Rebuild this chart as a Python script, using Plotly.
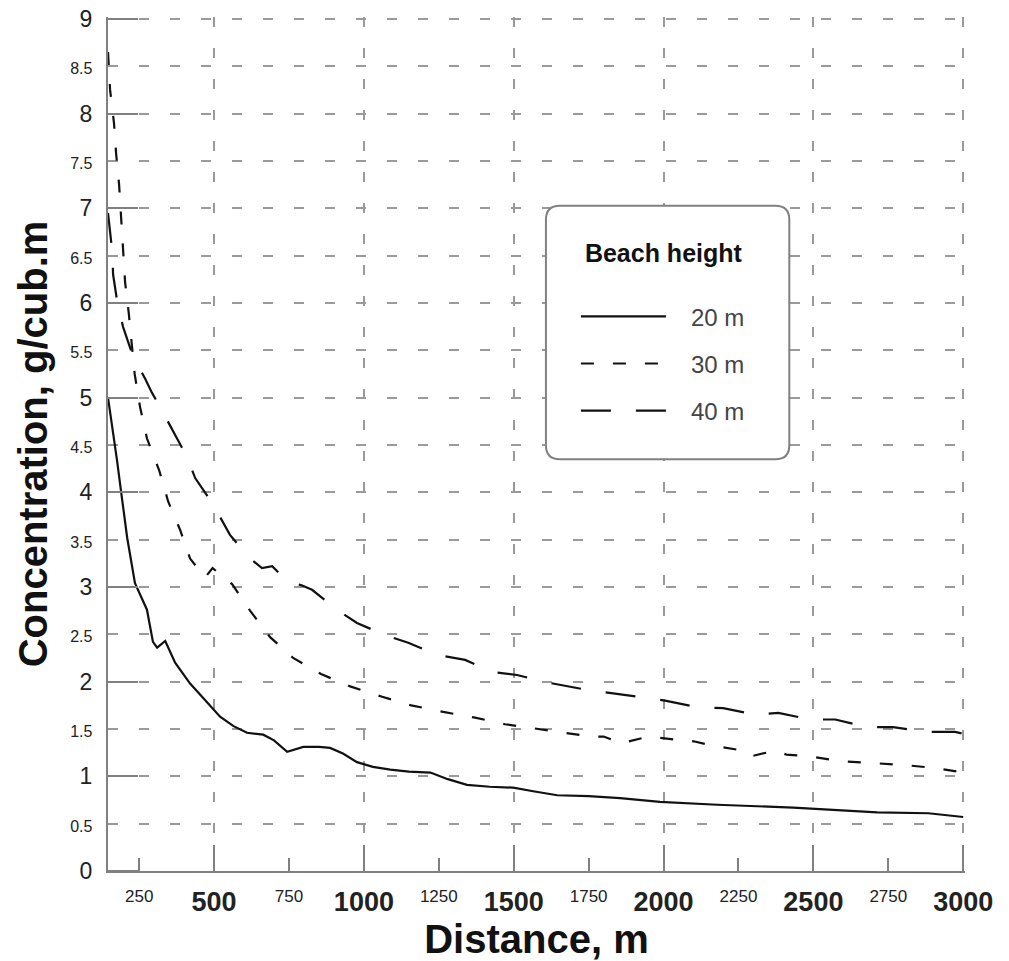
import plotly.graph_objects as go

# ---- data ----
x20 = [146, 160, 176, 190, 210, 236, 276, 296, 310, 337, 370, 420, 470, 520, 565, 610,
       664, 700, 744, 798, 850, 887, 930, 977, 1030, 1088, 1150, 1222, 1280, 1344, 1420,
       1498, 1570, 1645, 1750, 1855, 1988, 2179, 2433, 2713, 2884, 3000]
y20 = [5.0, 4.7, 4.34, 4.0, 3.52, 3.04, 2.76, 2.42, 2.36, 2.43, 2.2, 1.98, 1.8, 1.63, 1.53, 1.46,
       1.44, 1.38, 1.26, 1.31, 1.31, 1.3, 1.24, 1.15, 1.1, 1.07, 1.05, 1.04, 0.97, 0.91, 0.89,
       0.88, 0.84, 0.8, 0.79, 0.77, 0.73, 0.7, 0.67, 0.62, 0.61, 0.57]

x30 = [146, 153, 166, 173, 183, 190, 196, 203, 215, 225, 235, 253, 276, 317, 347, 387, 420,
       470, 495, 560, 620, 687, 764, 857, 954, 1061, 1158, 1265, 1371, 1471, 1581, 1658,
       1758, 1800, 1860, 1950, 2000, 2060, 2100, 2170, 2250, 2290, 2370, 2410, 2490, 2590,
       2700, 2800, 2900, 3000]
y30 = [8.65, 8.25, 7.9, 7.58, 7.25, 6.9, 6.55, 6.22, 5.9, 5.6, 5.25, 4.9, 4.57, 4.23, 3.9, 3.6, 3.3,
       3.1, 3.2, 3.03, 2.75, 2.47, 2.25, 2.08, 1.95, 1.84, 1.75, 1.68, 1.62, 1.55, 1.5, 1.46,
       1.42, 1.42, 1.35, 1.42, 1.4, 1.38, 1.37, 1.32, 1.28, 1.21, 1.27, 1.23, 1.21, 1.16,
       1.14, 1.12, 1.09, 1.04]

x40 = [146, 153, 160, 163, 176, 196, 213, 230, 270, 293, 320, 353, 410, 437, 497, 553, 620,
       660, 694, 747, 790, 827, 870, 910, 977, 1071, 1148, 1248, 1338, 1431, 1511, 1615,
       1732, 1875, 2005, 2112, 2199, 2306, 2383, 2490, 2573, 2680, 2766, 2873, 2973, 3000]
y40 = [6.95, 6.75, 6.55, 6.3, 6.03, 5.75, 5.6, 5.43, 5.2, 5.05, 4.9, 4.7, 4.37, 4.15, 3.87, 3.55, 3.3,
       3.2, 3.22, 3.05, 3.02, 2.97, 2.86, 2.76, 2.62, 2.49, 2.41, 2.28, 2.23, 2.1, 2.07, 1.99,
       1.92, 1.86, 1.8, 1.73, 1.72, 1.65, 1.67, 1.6, 1.6, 1.52, 1.52, 1.47, 1.47, 1.45]

series_names = ["20 m", "30 m", "40 m"]
x_range = [146, 3006]
y_range = [0, 9.02]

x_tick_vals = [250 * i for i in range(1, 13)]
x_major_vals = [500 * i for i in range(1, 7)]
y_tick_vals = [0.5 * i for i in range(0, 19)]
y_major_vals = list(range(0, 10))

FONT = "Liberation Sans, Arial, sans-serif"
GRID = "#9a9a9a"
AXIS = "#808080"
NB = "\u00a0"


def xlab(v):
    if v % 500 == 0:
        return str(v)
    return ('<span style="font-size:17px;font-weight:normal;baseline-shift:9px">%d</span>' % v)


def ylab(v):
    if float(v).is_integer():
        return str(int(v))
    return '<span style="font-size:16px">%g</span>' % v


fig = go.Figure()
dashes = ["solid", "13px,19px", "30px,25px"]
axes_for = ["x", "x", "x2"]
for name, xs, ys, d, xa in zip(series_names, [x20, x30, x40], [y20, y30, y40], dashes, axes_for):
    fig.add_trace(go.Scatter(x=xs, y=ys, mode="lines", name=NB * 3 + name, legendgroup=name,
                             xaxis=xa, yaxis="y",
                             line=dict(color="#111111", width=2.2, dash=d)))

fig.update_layout(
    width=1009, height=961,
    margin=dict(l=108, r=44, t=17, b=90, autoexpand=False),
    paper_bgcolor="white", plot_bgcolor="white",
    font=dict(family=FONT, color="#222"),
    showlegend=True,
    legend=dict(x=0.546, y=0.7515, xanchor="left", yanchor="top",
                bgcolor="rgba(0,0,0,0)", borderwidth=0,
                font=dict(size=24, color="#444", family=FONT),
                title=dict(text=NB + "<b>Beach height</b><br> ", font=dict(size=25, color="#111")),
                itemwidth=85, tracegroupgap=13, traceorder="grouped"),
    xaxis=dict(range=x_range, tickmode="array", tickvals=x_tick_vals,
               ticktext=[xlab(v) for v in x_tick_vals],
               tickfont=dict(size=27, family=FONT, weight="bold", color="#222"),
               ticks="inside", ticklen=13, tickwidth=2, tickcolor=AXIS,
               ticklabelstandoff=6, automargin=False,
               showgrid=False, zeroline=False,
               showline=True, linecolor=AXIS, linewidth=2,
               title=dict(text="<b>Distance, m</b>", font=dict(size=40, color="#111"), standoff=15)),
    xaxis2=dict(matches="x", overlaying="x", anchor="y", side="bottom",
                tickmode="array", tickvals=x_major_vals, showticklabels=False,
                ticks="inside", ticklen=26, tickwidth=2, tickcolor=AXIS, automargin=False,
                showgrid=True, gridcolor=GRID, gridwidth=2, griddash="10px,21px",
                zeroline=False, showline=False),
    yaxis=dict(range=y_range, tickmode="array", tickvals=y_tick_vals,
               ticktext=[ylab(v) for v in y_tick_vals],
               tickfont=dict(size=23, family=FONT, color="#222"),
               ticks="outside", ticklen=0, ticklabelstandoff=9, automargin=False,
               showgrid=True, gridcolor=GRID, gridwidth=2, griddash="10px,21px",
               zeroline=False, showline=True, linecolor=AXIS, linewidth=2,
               minor=dict(tickmode="array", tickvals=y_major_vals, ticks="inside",
                          ticklen=30, tickwidth=2, tickcolor=AXIS, showgrid=False),
               title=dict(text="<b>Concentration, g/cub.m</b>", font=dict(size=40, color="#111"),
                          standoff=10)),
)

# rounded legend frame (paper coords of the plot area)
x0, x1, y0, y1 = 0.511, 0.795, 0.482, 0.779
rx, ry = 14 / 855, 14 / 852
path = (f"M {x0+rx},{y1} L {x1-rx},{y1} Q {x1},{y1} {x1},{y1-ry} "
        f"L {x1},{y0+ry} Q {x1},{y0} {x1-rx},{y0} L {x0+rx},{y0} "
        f"Q {x0},{y0} {x0},{y0+ry} L {x0},{y1-ry} Q {x0},{y1} {x0+rx},{y1} Z")
fig.add_shape(type="path", xref="paper", yref="paper", path=path,
              line=dict(color=AXIS, width=2), fillcolor="white", layer="above")

fig.write_html("out.html")
